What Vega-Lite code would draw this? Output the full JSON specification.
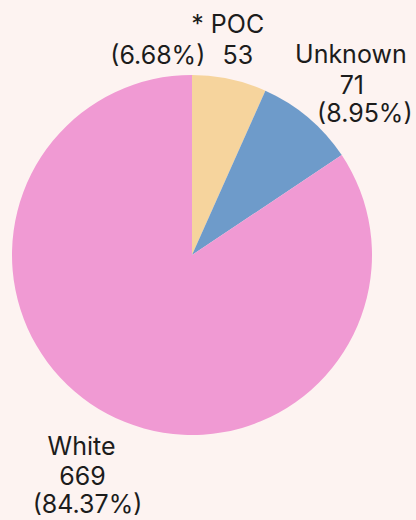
{
  "$schema": "https://vega.github.io/schema/vega-lite/v6.json",
  "width": 384,
  "height": 510,
  "padding": {"left": 0, "top": 0, "right": 32, "bottom": 10},
  "autosize": "none",
  "background": "#fdf3f1",
  "config": {"view": {"stroke": null}, "text": {"font": "Inter", "fontSize": 25, "color": "#1c1c1c", "baseline": "middle", "align": "center"}},
  "data": {"values": [
    {"group": "* POC", "count": 53, "pct": "(6.68%)", "order": 1},
    {"group": "Unknown", "count": 71, "pct": "(8.95%)", "order": 2},
    {"group": "White", "count": 669, "pct": "(84.37%)", "order": 3}
  ]},
  "encoding": {
    "theta": {"field": "count", "type": "quantitative", "stack": true},
    "order": {"field": "order", "type": "quantitative"}
  },
  "layer": [
    {"mark": {"type": "arc", "radius": 180},
     "encoding": {"color": {"field": "group", "type": "nominal", "legend": null,
       "scale": {"domain": ["* POC", "Unknown", "White"], "range": ["#f6d49d", "#6e9bca", "#f09ad3"]}}}},
    {"mark": {"type": "text", "radius": 210, "dx": -8, "dy": -25},
     "encoding": {"text": {"condition": {"test": "datum.group === '* POC'", "field": "group", "type": "nominal"}, "value": ""}}},
    {"mark": {"type": "text", "radius": 210, "dx": 2, "dy": 6},
     "encoding": {"text": {"condition": {"test": "datum.group === '* POC'", "field": "count", "type": "quantitative"}, "value": ""}}},
    {"mark": {"type": "text", "radius": 210, "dx": -78, "dy": 6},
     "encoding": {"text": {"condition": {"test": "datum.group === '* POC'", "field": "pct", "type": "nominal"}, "value": ""}}},
    {"mark": {"type": "text", "radius": 240, "dx": 4, "dy": -17},
     "encoding": {"text": {"condition": {"test": "datum.group === 'Unknown'", "field": "group", "type": "nominal"}, "value": ""}}},
    {"mark": {"type": "text", "radius": 240, "dx": 5, "dy": 14},
     "encoding": {"text": {"condition": {"test": "datum.group === 'Unknown'", "field": "count", "type": "quantitative"}, "value": ""}}},
    {"mark": {"type": "text", "radius": 240, "dx": 18, "dy": 42},
     "encoding": {"text": {"condition": {"test": "datum.group === 'Unknown'", "field": "pct", "type": "nominal"}, "value": ""}}},
    {"mark": {"type": "text", "radius": 230, "dx": -2, "dy": -11},
     "encoding": {"text": {"condition": {"test": "datum.group === 'White'", "field": "group", "type": "nominal"}, "value": ""}}},
    {"mark": {"type": "text", "radius": 230, "dx": -1, "dy": 19},
     "encoding": {"text": {"condition": {"test": "datum.group === 'White'", "field": "count", "type": "quantitative"}, "value": ""}}},
    {"mark": {"type": "text", "radius": 230, "dx": 4, "dy": 47},
     "encoding": {"text": {"condition": {"test": "datum.group === 'White'", "field": "pct", "type": "nominal"}, "value": ""}}}
  ]
}
